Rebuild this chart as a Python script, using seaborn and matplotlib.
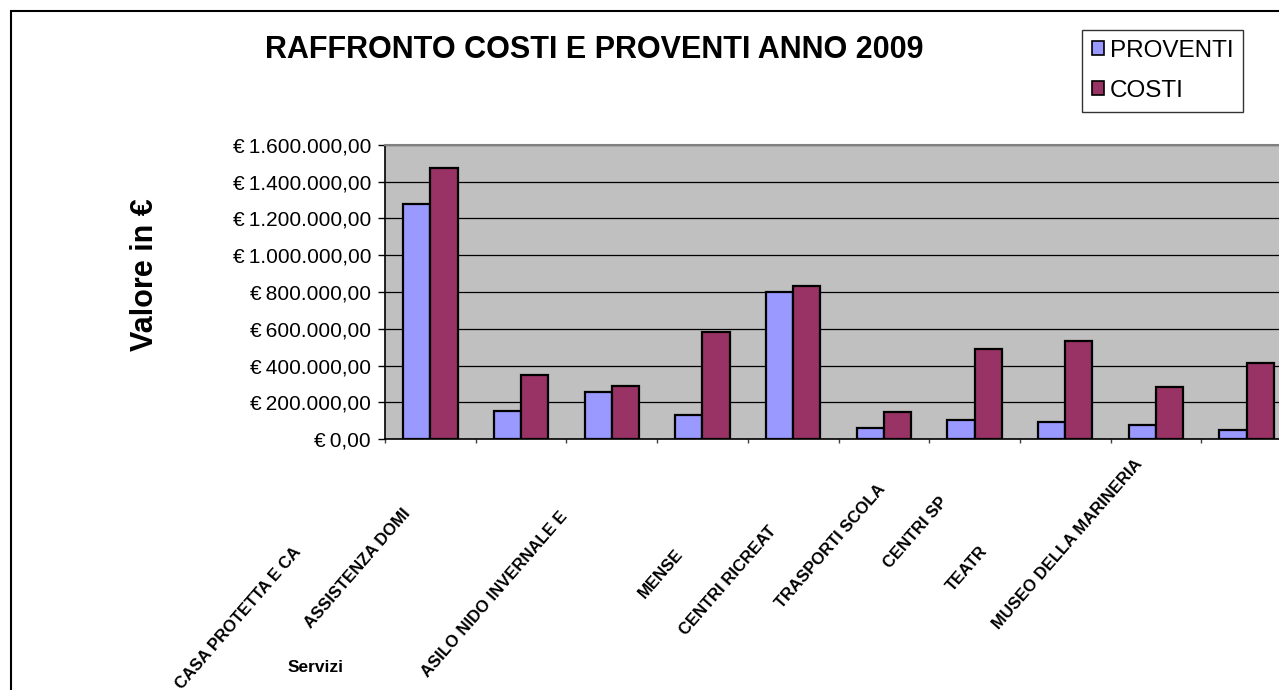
import matplotlib
matplotlib.use("Agg")
import matplotlib.pyplot as plt
import matplotlib.transforms as mtransforms
from matplotlib.patches import Rectangle, Patch
from matplotlib.ticker import FuncFormatter, MultipleLocator, FixedLocator
import seaborn as sns
import pandas as pd

# ---------------- data ----------------
categories = ["CASA PROTETTA E CA", "ASSISTENZA DOMI", "ASILO NIDO INVERNALE E",
              "MENSE", "CENTRI RICREAT", "TRASPORTI SCOLA", "CENTRI SP",
              "TEATR", "MUSEO DELLA MARINERIA", "ALTRO"]
tick_labels = ["CASA PROTETTA E CA", "ASSISTENZA DOMI", "ASILO NIDO INVERNALE E",
               "MENSE", "CENTRI RICREAT", "TRASPORTI SCOLA", "CENTRI SP",
               "TEATR", "MUSEO DELLA MARINERIA", ""]
proventi = [1277000, 154000, 257000, 132000, 800000, 60000, 103000, 92000, 74000, 51000]
costi = [1475000, 350000, 290000, 582000, 831000, 145000, 488000, 531000, 281000, 413000]
series = ["PROVENTI", "COSTI"]
colors = ["#9999FF", "#993366"]

# label offsets in pixels (dx, dy down) relative to category centre at axis bottom
label_offsets = [(-132, 110), (-113, 72), (-47, 75), (-22, 112), (-20, 89),
                 (-1, 47), (-30, 60), (-80, 109), (-16, 22), (0, 0)]

df = pd.DataFrame({
    "Servizi": categories * 2,
    "Valore": proventi + costi,
    "Serie": [series[0]] * len(categories) + [series[1]] * len(categories),
})

sns.set_style("white")
plt.rcParams["font.family"] = ["Liberation Sans", "DejaVu Sans"]
for k in ["text.color", "axes.labelcolor", "xtick.color", "ytick.color"]:
    plt.rcParams[k] = "black"

W, H = 1279, 690
fig = plt.figure(figsize=(W / 100, H / 100), dpi=100)
fig.patch.set_facecolor("white")

ax = fig.add_axes([385 / W, (H - 439) / H, 907 / W, 294 / H])
ax.set_facecolor("#C0C0C0")

sns.barplot(data=df, x="Servizi", y="Valore", hue="Serie", hue_order=series,
            order=categories, palette=colors, saturation=1, width=0.6,
            edgecolor="black", linewidth=1.6, ax=ax, legend=False)

ax.set_xlim(-0.5, len(categories) - 0.5)
ax.set_ylim(0, 1600000)
ax.yaxis.set_major_locator(MultipleLocator(200000))
ax.grid(axis="y", color="black", linewidth=0.9)
ax.set_axisbelow(True)


def euro(v, pos):
    s = f"{v:,.2f}".replace(",", "X").replace(".", ",").replace("X", ".")
    return "€\u2009" + s


ax.yaxis.set_major_formatter(FuncFormatter(euro))
ax.tick_params(axis="y", direction="out", length=5, width=1, color="black",
               labelsize=15, labelcolor="black", pad=5, left=True)

# x ticks: marks at category boundaries, labels drawn separately
ax.set_xticks([])
ax.xaxis.set_minor_locator(FixedLocator([i - 0.5 for i in range(len(categories) + 1)]))
ax.tick_params(axis="x", which="minor", direction="out", length=3, width=1,
               color="#404040", bottom=True)
ax.set_xlabel("")
ax.set_ylabel("")

for s in ["left", "bottom"]:
    ax.spines[s].set_color("black")
    ax.spines[s].set_linewidth(1.2)
ax.spines["top"].set_color("#808080")
ax.spines["top"].set_linewidth(1.5)
ax.spines["right"].set_visible(False)

for i, (lab, (dx, dy)) in enumerate(zip(tick_labels, label_offsets)):
    tr = ax.get_xaxis_transform() + mtransforms.ScaledTranslation(
        dx / 100, -dy / 100, fig.dpi_scale_trans)
    ax.text(i, 0, lab, transform=tr, rotation=49, rotation_mode="anchor",
            ha="right", va="center", fontsize=12, fontweight="bold",
            color="black", clip_on=False)

# titles and axis labels
fig.text(594 / W, 1 - 50 / H, "RAFFRONTO COSTI E PROVENTI ANNO 2009",
         ha="center", va="center", fontsize=22, fontweight="bold", color="black")
fig.text(145 / W, 1 - 275 / H, "Valore in €", rotation=90, ha="center",
         va="center", fontsize=22, fontweight="bold", color="black")
fig.text(316 / W, 1 - 667 / H, "Servizi", ha="center", va="center",
         fontsize=12.5, fontweight="bold", color="black")

# legend
handles = [Patch(facecolor=c, edgecolor="black", linewidth=1.2) for c in colors]
leg = fig.legend(handles, series, loc="upper left",
                 bbox_to_anchor=(1082 / W, 1 - 30 / H), fontsize=17.5,
                 frameon=True, fancybox=False, handlelength=0.5,
                 handleheight=0.5, handletextpad=0.25, borderpad=0.4,
                 labelspacing=0.75, borderaxespad=0)
leg.get_frame().set_edgecolor("black")
leg.get_frame().set_linewidth(1.0)
for t in leg.get_texts():
    t.set_color("black")

# outer chart border (cropped on the right and bottom)
fig.patches.append(Rectangle((11 / W, -0.2), 1.2, (H - 11) / H + 0.2,
                             transform=fig.transFigure, fill=False,
                             edgecolor="black", linewidth=1.5))

fig.savefig("out.png", dpi=100)
